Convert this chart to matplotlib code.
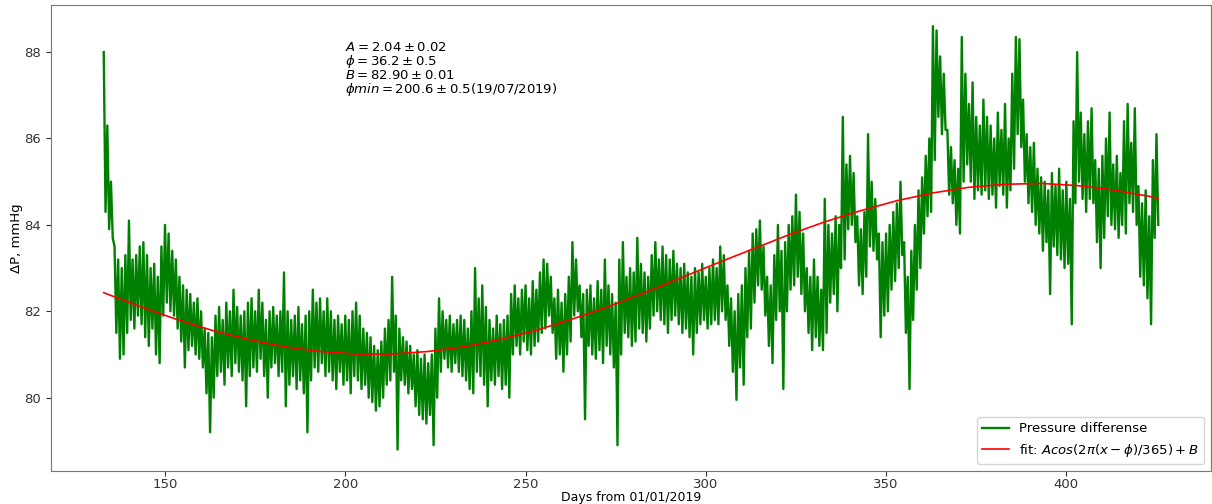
import numpy as np
import matplotlib
matplotlib.use("Agg")
from matplotlib import pyplot as plt

# daily high / low of the pressure difference (mmHg), days 133..425
first_day = 133
hi = [88.0, 86.3, 85.0, 83.5, 83.2, 83.0, 83.3, 84.1, 83.2, 83.3,
      83.5, 83.6, 83.3, 83.0, 83.1, 82.8, 83.5, 84.0, 83.8, 83.4,
      83.2, 82.8, 82.6, 82.5, 82.4, 82.2, 82.3, 82.0, 81.6, 81.5,
      81.4, 81.9, 82.1, 81.8, 82.2, 82.0, 82.5, 82.1, 81.9, 82.0,
      82.2, 82.3, 82.0, 82.5, 82.2, 81.8, 82.0, 82.1, 81.9, 82.0,
      82.9, 82.0, 81.8, 81.9, 82.1, 81.7, 81.9, 82.0, 82.5, 82.2,
      82.3, 82.0, 82.3, 82.0, 81.8, 81.9, 81.7, 81.9, 81.8, 82.0,
      82.2, 81.9, 81.6, 81.5, 81.4, 81.2, 81.1, 81.3, 81.6, 81.8,
      82.8, 81.9, 81.6, 81.4, 81.3, 81.2, 81.0, 81.1, 80.9, 81.0,
      80.8, 81.0, 81.6, 82.3, 82.0, 81.8, 81.9, 81.7, 81.8, 81.9,
      81.8, 81.6, 82.0, 83.0, 82.3, 82.6, 82.1, 81.8, 81.6, 81.9,
      81.7, 81.8, 81.9, 82.4, 82.6, 82.3, 82.5, 82.6, 82.3, 82.7,
      82.5, 82.9, 83.2, 83.1, 82.8, 82.3, 82.5, 82.2, 82.4, 82.8,
      83.6, 83.2, 82.6, 82.4, 82.5, 82.6, 82.3, 82.7, 82.5, 83.2,
      82.6, 82.4, 82.2, 83.2, 83.6, 82.8, 83.0, 82.9, 83.7, 83.1,
      82.9, 82.8, 83.3, 83.6, 83.2, 83.5, 83.3, 83.2, 83.4, 83.1,
      83.0, 83.1, 82.9, 82.8, 83.0, 82.9, 83.1, 82.8, 83.0, 83.2,
      83.0, 83.5, 83.3, 82.6, 82.3, 82.0, 82.4, 82.6, 83.0, 83.4,
      83.8, 83.9, 84.1, 83.5, 82.8, 82.6, 83.3, 84.0, 83.4, 83.6,
      84.0, 84.2, 84.7, 84.3, 83.8, 83.0, 82.8, 83.2, 82.8, 82.5,
      84.6, 84.0, 83.8, 84.2, 84.0, 86.5, 85.4, 85.6, 85.2, 84.2,
      83.9, 84.3, 86.1, 85.0, 84.6, 83.8, 83.6, 83.8, 84.0, 84.3,
      84.5, 85.0, 83.6, 82.8, 83.4, 84.0, 84.8, 85.1, 85.6, 86.0,
      88.6, 88.5, 87.9, 87.5, 86.2, 85.8, 85.5, 85.3, 88.35, 87.5,
      86.8, 87.3, 86.5, 86.3, 86.9, 86.5, 86.3, 86.0, 86.6, 86.2,
      86.8, 86.0, 87.5, 88.35, 88.3, 86.9, 86.1, 85.8, 85.9, 85.3,
      85.1, 85.0, 84.8, 85.2, 84.9, 85.3, 84.8, 85.0, 84.6, 86.4,
      88.0, 86.6, 86.1, 86.4, 86.7, 85.5, 85.3, 85.6, 86.0, 86.6,
      85.4, 85.6, 85.2, 86.4, 86.8, 85.9, 86.7, 84.9, 84.5, 84.8,
      84.2, 85.5, 86.1]
lo = [84.3, 83.9, 83.7, 81.5, 80.9, 81.0, 81.5, 81.8, 81.6, 81.9,
      81.7, 81.4, 81.2, 81.6, 81.0, 80.8, 81.9, 82.2, 82.0, 81.9,
      81.6, 81.3, 80.7, 81.1, 81.2, 81.0, 80.9, 80.7, 80.1, 79.2,
      80.0, 80.5, 80.6, 80.3, 80.7, 80.5, 80.8, 80.6, 80.4, 79.8,
      80.5, 80.7, 80.6, 80.9, 80.5, 80.0, 80.7, 80.8, 80.5, 80.6,
      79.8, 80.3, 80.5, 80.2, 80.4, 80.1, 79.2, 80.4, 80.7, 80.6,
      80.8, 80.5, 80.6, 80.4, 80.2, 80.6, 80.3, 80.4, 80.1, 80.5,
      80.4, 80.2, 80.3, 80.0, 79.9, 79.7, 79.8, 80.0, 80.3, 80.4,
      80.6, 78.8, 80.4, 80.3, 80.1, 80.2, 79.8, 79.6, 79.5, 79.4,
      79.6, 78.9, 80.0, 80.6, 80.9, 80.7, 80.6, 80.8, 80.6, 80.5,
      80.4, 80.2, 80.1, 80.6, 80.5, 80.3, 79.8, 80.4, 80.3, 80.5,
      80.2, 80.3, 80.0, 81.0, 81.2, 81.0, 81.3, 81.1, 81.0, 81.2,
      81.3, 81.5, 81.6, 81.9, 81.5, 80.9, 81.0, 80.6, 81.0, 81.3,
      81.9, 82.0, 81.4, 79.5, 81.2, 81.0, 80.9, 81.1, 80.8, 81.2,
      81.0, 80.7, 78.9, 81.0, 81.5, 81.4, 81.2, 81.3, 81.6, 81.5,
      81.3, 81.6, 81.9, 82.0, 81.8, 81.7, 81.5, 81.8, 81.9, 81.7,
      81.5, 81.6, 81.4, 81.0, 81.5, 81.7, 81.8, 81.6, 81.7, 81.8,
      81.7, 82.0, 81.8, 81.2, 80.6, 79.95, 80.7, 80.3, 81.4, 81.6,
      82.2, 82.6, 82.5, 81.9, 81.2, 80.8, 81.8, 82.0, 80.2, 82.0,
      82.5, 82.6, 82.8, 82.4, 82.0, 81.5, 81.1, 81.4, 81.2, 81.1,
      81.5, 82.2, 82.4, 82.0, 83.0, 83.2, 83.9, 84.0, 83.6, 82.6,
      82.4, 82.8, 83.5, 83.4, 83.2, 81.4, 81.9, 82.0, 82.5, 82.7,
      83.0, 83.3, 81.5, 80.2, 81.8, 82.5, 83.0, 83.8, 84.2, 84.3,
      85.5, 86.5, 86.1, 86.2, 84.7, 84.5, 84.0, 83.8, 85.0, 85.4,
      85.0, 84.6, 84.8, 84.7, 84.8, 84.6, 84.7, 84.4, 84.9, 84.7,
      84.4, 84.8, 85.3, 86.1, 85.8, 85.0, 84.5, 84.3, 84.0, 83.8,
      83.4, 83.6, 82.4, 83.5, 83.3, 83.2, 83.0, 83.1, 81.7, 84.5,
      85.0, 84.6, 84.3, 84.6, 84.5, 83.6, 83.0, 83.7, 84.2, 84.0,
      83.9, 83.7, 84.0, 83.8, 84.5, 84.3, 84.0, 82.8, 82.6, 82.3,
      81.7, 83.7, 84.0]

# fitted seasonal curve
fit_days = [133, 143, 153, 163, 173, 183, 193, 203, 213, 223, 233, 243, 253,
            263, 273, 283, 293, 303, 313, 323, 333, 343, 353, 363, 373, 383,
            393, 403, 413, 423, 425.5]
fit_vals = [82.43, 82.11, 81.82, 81.56, 81.35, 81.18, 81.07, 81.01, 81.01,
            81.07, 81.18, 81.35, 81.56, 81.82, 82.11, 82.43, 82.77, 83.11,
            83.44, 83.77, 84.07, 84.33, 84.56, 84.74, 84.87, 84.94, 84.96,
            84.91, 84.81, 84.66, 84.61]

fit_text = (r"$A = 2.04 \pm 0.02$" + "\n" + r"$\phi = 36.2 \pm 0.5$" + "\n"
            + r"$B = 82.90 \pm 0.01$" + "\n"
            + r"$\phi min = 200.6 \pm 0.5 (19/07/2019)$")

days = first_day + np.arange(len(hi))
x = (np.repeat(days, 2) + np.tile([0.0, 0.5], len(days)))
y = np.column_stack([hi, lo]).ravel()

fig = plt.figure(figsize=(12.12, 5.04), dpi=100)
ax = fig.add_axes([51 / 1212, 33.3 / 504, 1160 / 1212, 465.7 / 504])
ax.plot(x, y, color="green", lw=1.7, label="Pressure differense")
ax.plot(fit_days, fit_vals, color="red", lw=1.2,
        label=r"fit: $Acos(2\pi(x-\phi)/365)+B$")
ax.text(200, 88.25, fit_text, fontsize=9.5, va="top", ha="left",
        linespacing=0.9)

ax.set_xlabel("Days from 01/01/2019", fontsize=9, labelpad=0)
ax.set_ylabel("ΔP, mmHg", fontsize=9.5, labelpad=1)
ax.set_xticks([150, 200, 250, 300, 350, 400])
ax.set_yticks([80, 82, 84, 86, 88])
ax.tick_params(labelsize=9.5, colors="#333333")
ax.tick_params(axis="x", pad=2)
for s in ax.spines.values():
    s.set_color("#777777")
ax.legend(loc="lower right", fontsize=9.5)

plt.savefig("out.png", dpi=100)
